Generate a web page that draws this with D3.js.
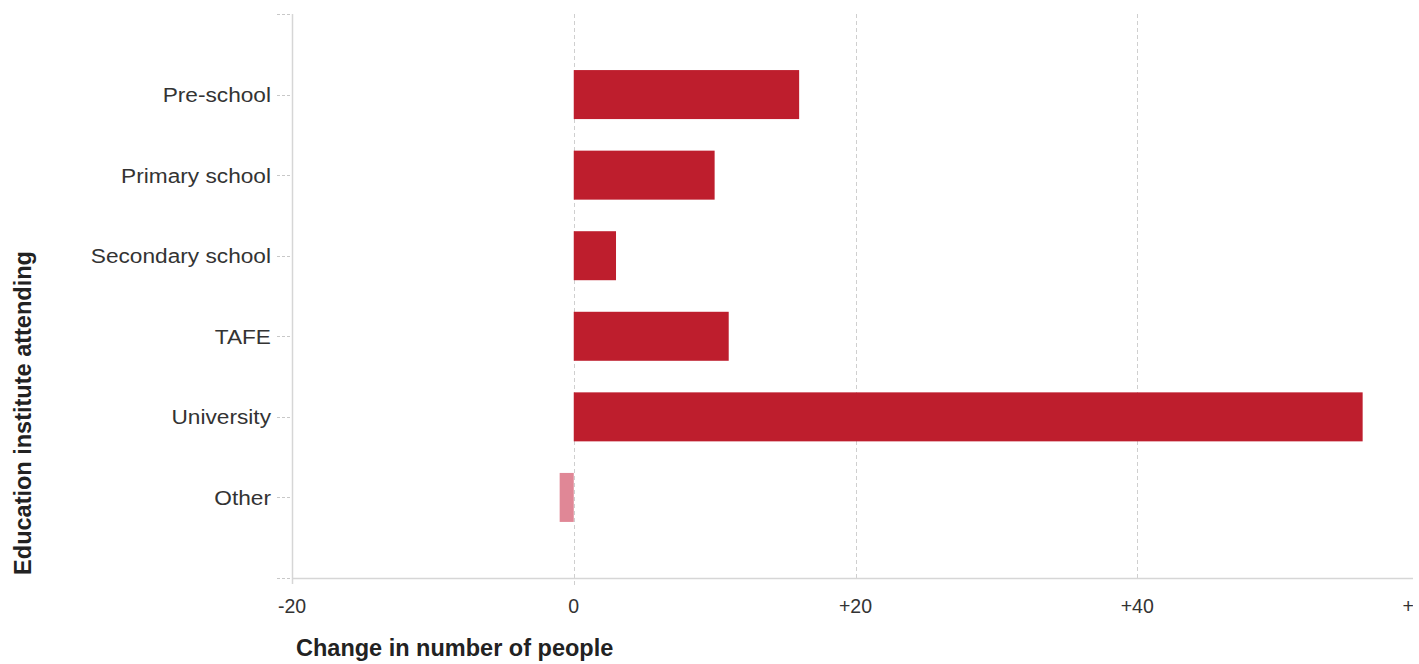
<!DOCTYPE html>
<html><head><meta charset="utf-8">
<script src="https://cdn.jsdelivr.net/npm/d3@7"></script>
<style>
body{margin:0;background:#fff;}
text{font-family:Arial,"Liberation Sans",sans-serif;}
</style></head>
<body>
<svg id="chart" width="1419" height="664"></svg>
<script>
const categories = ["Pre-school","Primary school","Secondary school","TAFE","University","Other"];
const values = [16, 10, 3, 11, 56, -1];
const xTicks = [-20, 0, 20, 40, 60];
const xTickLabels = ["-20","0","+20","+40","+60"];

(function(){
const svg = d3.select("#chart");
const pLeft = 292, pRight = 1419, pTop = 14, pBottom = 578;

const x = d3.scaleLinear().domain([-20, 60]).range([pLeft, pRight]);
const y = d3.scalePoint().domain(categories).range([pTop, pBottom]).padding(1);
const barH = 49;

svg.append("defs").append("clipPath").attr("id","clip")
  .append("rect").attr("x",0).attr("y",0).attr("width",1413).attr("height",664);

const g = svg.append("g").attr("clip-path","url(#clip)");

// gridlines
g.selectAll(".grid").data(xTicks.filter(d => d > -20)).enter().append("line")
  .attr("x1", d => Math.round(x(d)) + 0.5).attr("x2", d => Math.round(x(d)) + 0.5)
  .attr("y1", pTop).attr("y2", d => d === 0 ? pBottom + 7 : pBottom)
  .attr("stroke", "#cfcfcf").attr("stroke-dasharray", "4,3").attr("stroke-width", 1);

// bars
g.selectAll(".bar").data(categories).enter().append("rect")
  .attr("x", (d,i) => x(Math.min(0, values[i])))
  .attr("y", d => y(d) - barH/2)
  .attr("width", (d,i) => Math.abs(x(values[i]) - x(0)))
  .attr("height", barH)
  .attr("fill", (d,i) => values[i] < 0 ? "#e08796" : "#be1e2d");

// axes lines
g.append("line").attr("x1", pLeft+0.5).attr("x2", pLeft+0.5).attr("y1", pTop).attr("y2", pBottom)
  .attr("stroke", "#d6d6d6").attr("stroke-width", 1.5);
g.append("line").attr("x1", pLeft).attr("x2", pRight).attr("y1", pBottom+0.5).attr("y2", pBottom+0.5)
  .attr("stroke", "#d6d6d6").attr("stroke-width", 1.5);

// y ticks (dashed short)
const yTickYs = categories.map(c => y(c)).concat([pTop, pBottom]);
g.selectAll(".ytick").data(yTickYs).enter().append("line")
  .attr("x1", pLeft - 15).attr("x2", pLeft)
  .attr("y1", d => Math.round(d)+0.5).attr("y2", d => Math.round(d)+0.5)
  .attr("stroke", "#c8c8c8").attr("stroke-dasharray", "3,2");

// x tick at -20 on axis
g.append("line").attr("x1", x(-20)+0.5).attr("x2", x(-20)+0.5).attr("y1", pBottom).attr("y2", pBottom+6)
  .attr("stroke", "#d6d6d6").attr("stroke-width", 1.5);

// y labels
g.selectAll(".ylab").data(categories).enter().append("text")
  .attr("transform", d => `translate(${pLeft - 21},${y(d)}) scale(1.08,1)`)
  .attr("dy", "0.36em")
  .attr("text-anchor", "end").attr("font-size", 21).attr("fill", "#333")
  .text(d => d);

// x labels
g.selectAll(".xlab").data(xTicks).enter().append("text")
  .attr("x", d => x(d)).attr("y", 613)
  .attr("text-anchor", "middle").attr("font-size", 19.5).attr("fill", "#333")
  .text((d,i) => xTickLabels[i]);

// axis titles
svg.append("text").attr("x", 296).attr("y", 656)
  .attr("font-size", 23.5).attr("font-weight", "bold").attr("fill", "#222")
  .text("Change in number of people");
svg.append("text").attr("transform", "translate(31,413) rotate(-90)")
  .attr("text-anchor", "middle")
  .attr("font-size", 23.5).attr("font-weight", "bold").attr("fill", "#222")
  .text("Education institute attending");
})();
</script>
</body></html>
